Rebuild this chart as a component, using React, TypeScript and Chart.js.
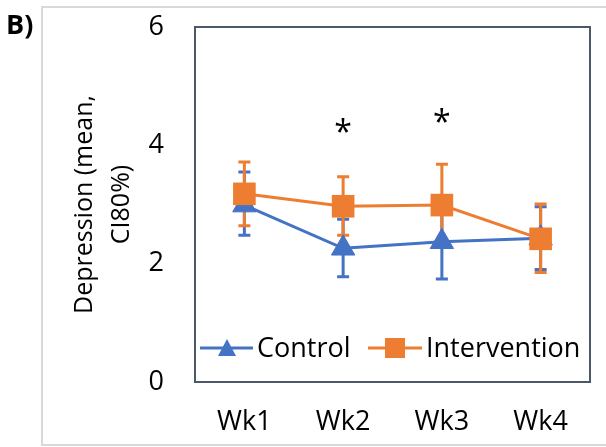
import React, { useEffect, useRef } from 'react';
import { Chart, registerables } from 'chart.js';

Chart.register(...registerables);

const categories = ['Wk1', 'Wk2', 'Wk3', 'Wk4'];
const controlMean = [2.99, 2.26, 2.37, 2.43];
const controlLow = [2.48, 1.78, 1.74, 1.9];
const controlHigh = [3.55, 2.75, 3.0, 2.96];
const interventionMean = [3.18, 2.97, 2.99, 2.42];
const interventionLow = [2.64, 2.48, 2.3, 1.85];
const interventionHigh = [3.72, 3.47, 3.68, 3.01];
const significantWeeks = ['Wk2', 'Wk3'];
const significanceLevels = [4.32, 4.5];
const yMin = 0;
const yMax = 6;
const yStep = 2;
const yTitle = ['Depression (mean,', 'CI80%)'];
const panelLabel = 'B)';
const seriesNames = ['Control', 'Intervention'];

const BLUE = '#4472C4';
const ORANGE = '#ED7D31';
const FONT = "'Open Sans'";

const errorBars = [
  { color: BLUE, low: controlLow, high: controlHigh },
  { color: ORANGE, low: interventionLow, high: interventionHigh },
];

const decorPlugin = {
  id: 'decor',
  beforeDraw(chart: any) {
    const ctx = chart.ctx;
    ctx.save();
    ctx.strokeStyle = '#D9D9D9';
    ctx.lineWidth = 2;
    ctx.strokeRect(42, 7, 620, 438);
    ctx.fillStyle = '#000';
    ctx.font = `bold 27px ${FONT}`;
    ctx.textBaseline = 'alphabetic';
    ctx.textAlign = 'left';
    ctx.fillText(panelLabel, 6, 34);
    ctx.restore();
  },
  beforeDatasetsDraw(chart: any) {
    const ctx = chart.ctx;
    const xs = chart.scales.x;
    const ys = chart.scales.y;
    ctx.save();
    ctx.lineWidth = 3;
    errorBars.forEach((eb) => {
      ctx.strokeStyle = eb.color;
      categories.forEach((c, i) => {
        const x = xs.getPixelForValue(i);
        const yl = ys.getPixelForValue(eb.low[i]);
        const yh = ys.getPixelForValue(eb.high[i]);
        ctx.beginPath();
        ctx.moveTo(x, yl);
        ctx.lineTo(x, yh);
        ctx.moveTo(x - 6, yl);
        ctx.lineTo(x + 6, yl);
        ctx.moveTo(x - 6, yh);
        ctx.lineTo(x + 6, yh);
        ctx.stroke();
      });
    });
    ctx.restore();
  },
  afterDatasetsDraw(chart: any) {
    const ctx = chart.ctx;
    const area = chart.chartArea;
    const xs = chart.scales.x;
    const ys = chart.scales.y;
    ctx.save();
    // plot area border
    ctx.strokeStyle = '#4A5868';
    ctx.lineWidth = 2;
    ctx.strokeRect(area.left, area.top, area.right - area.left, area.bottom - area.top);
    // significance marks
    ctx.fillStyle = '#000';
    ctx.font = `32px ${FONT}`;
    ctx.textAlign = 'center';
    ctx.textBaseline = 'alphabetic';
    significantWeeks.forEach((w, k) => {
      const i = categories.indexOf(w);
      ctx.fillText('*', xs.getPixelForValue(i), ys.getPixelForValue(significanceLevels[k]) + 17);
    });
    // legend
    const ly = 348;
    ctx.lineWidth = 3;
    ctx.strokeStyle = BLUE;
    ctx.beginPath();
    ctx.moveTo(200, ly);
    ctx.lineTo(253, ly);
    ctx.stroke();
    ctx.fillStyle = BLUE;
    ctx.beginPath();
    ctx.moveTo(227, ly - 9);
    ctx.lineTo(236, ly + 8);
    ctx.lineTo(218, ly + 8);
    ctx.closePath();
    ctx.fill();
    ctx.strokeStyle = ORANGE;
    ctx.beginPath();
    ctx.moveTo(368, ly);
    ctx.lineTo(422, ly);
    ctx.stroke();
    ctx.fillStyle = ORANGE;
    ctx.fillRect(385, ly - 10, 20, 20);
    ctx.fillStyle = '#000';
    ctx.font = `27px ${FONT}`;
    ctx.textAlign = 'left';
    ctx.fillText(seriesNames[0], 257, 357);
    ctx.fillText(seriesNames[1], 426, 357);
    ctx.restore();
  },
};

export default function App() {
  const ref = useRef<HTMLCanvasElement | null>(null);
  useEffect(() => {
    document.body.style.margin = '0';
    const canvas = ref.current!;
    const chart = new Chart(canvas, {
      type: 'line',
      data: {
        labels: categories,
        datasets: [
          {
            label: seriesNames[0],
            data: controlMean,
            borderColor: BLUE,
            backgroundColor: BLUE,
            borderWidth: 3,
            pointStyle: 'triangle',
            pointRadius: 13.5,
            pointBorderWidth: 1,
            pointBackgroundColor: BLUE,
            order: 1,
          },
          {
            label: seriesNames[1],
            data: interventionMean,
            borderColor: ORANGE,
            backgroundColor: ORANGE,
            borderWidth: 3,
            pointStyle: 'rect',
            pointRadius: 16,
            pointBorderWidth: 0,
            pointBackgroundColor: ORANGE,
            order: 0,
          },
        ],
      },
      options: {
        responsive: false,
        animation: false,
        events: [],
        layout: { padding: { left: 50, top: 27, right: 6, bottom: 0 } },
        plugins: {
          legend: { display: false },
          tooltip: { enabled: false },
        },
        scales: {
          x: {
            type: 'category',
            offset: true,
            grid: { display: false, drawTicks: false },
            border: { display: false },
            ticks: { color: '#000', font: { family: FONT, size: 27 }, padding: 24 },
            afterFit: (s: any) => {
              s.height = 65;
              s.paddingLeft = 0;
              s.paddingRight = 0;
            },
          },
          y: {
            min: yMin,
            max: yMax,
            grid: { display: false, drawTicks: false },
            border: { display: false },
            ticks: { stepSize: yStep, color: '#000', font: { family: FONT, size: 27 }, padding: 31 },
            title: {
              display: true,
              text: yTitle,
              color: '#000',
              font: { family: FONT, size: 25, lineHeight: 1.48 },
              padding: { top: 16, bottom: 0 },
            },
            afterFit: (s: any) => {
              s.width = 145;
              s.paddingTop = 0;
              s.paddingBottom = 0;
            },
          },
        },
      },
      plugins: [decorPlugin],
    });
    return () => chart.destroy();
  }, []);
  return (
    <div style={{ position: 'absolute', left: 0, top: 0, width: 606, height: 447, background: '#fff' }}>
      <canvas ref={ref} width={606} height={447} />
    </div>
  );
}
